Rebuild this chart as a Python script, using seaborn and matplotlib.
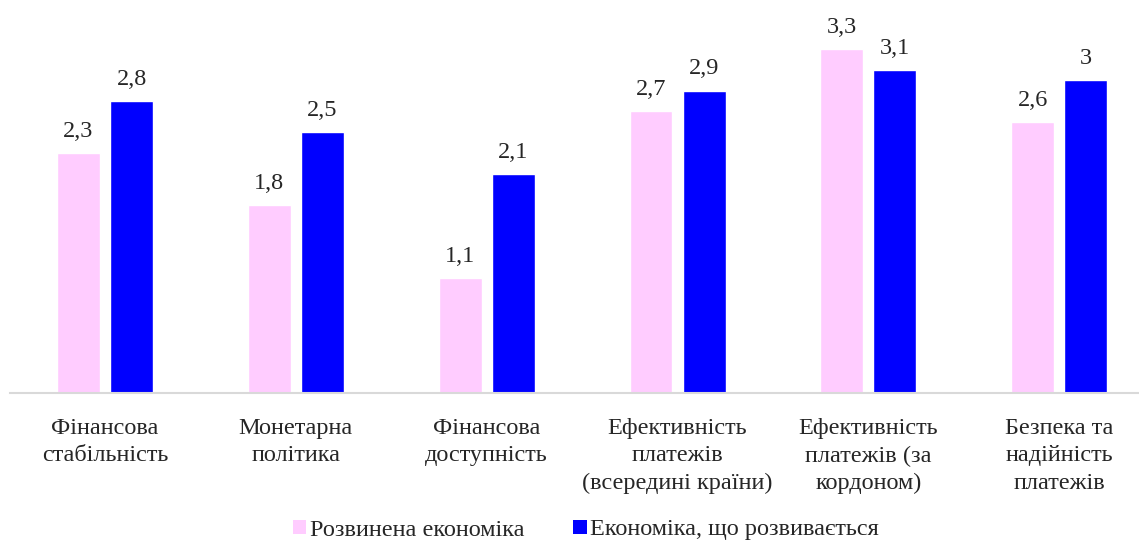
import matplotlib
matplotlib.use("Agg")
import matplotlib.pyplot as plt
import seaborn as sns
import pandas as pd
from matplotlib.patches import Patch

categories = [
    "Фінансова\nстабільність",
    "Монетарна\nполітика",
    "Фінансова\nдоступність",
    "Ефективність\nплатежів\n(всередині країни)",
    "Ефективність\nплатежів (за\nкордоном)",
    "Безпека та\nнадійність\nплатежів",
]
developed = [2.3, 1.8, 1.1, 2.7, 3.3, 2.6]
developing = [2.8, 2.5, 2.1, 2.9, 3.1, 3.0]
series_names = ["Розвинена економіка", "Економіка, що розвивається"]
colors = ["#FFCCFF", "#0000FF"]

df = pd.DataFrame({
    "category": categories * 2,
    "value": developed + developing,
    "series": [series_names[0]] * len(categories) + [series_names[1]] * len(categories),
})

sns.set_theme(style="white")
plt.rcParams["font.family"] = ["Liberation Serif", "DejaVu Serif"]

W, H = 1139, 541
FS = 17.5
fig = plt.figure(figsize=(W / 100, H / 100), dpi=100)
ax = fig.add_axes([9.6 / W, 1 - 393 / H, 1145 / W, (393 - 28) / H])

sns.barplot(data=df, x="category", y="value", hue="series", palette=colors,
            width=0.556, gap=0.19, ax=ax, legend=False, saturation=1)

ax.set_ylim(0, 3.5)
ax.set_xlim(-0.5, len(categories) - 0.5)
ax.set_xlabel("")
ax.set_ylabel("")
ax.set_yticks([])
for s in ["top", "right", "left"]:
    ax.spines[s].set_visible(False)
ax.spines["bottom"].set_color("#D9D9D9")
ax.spines["bottom"].set_linewidth(1.5)
ax.tick_params(axis="x", length=0, pad=18, labelsize=FS)
for t in ax.get_xticklabels():
    t.set_linespacing(1.4)

for container in ax.containers:
    labels = [f"{v:g}".replace(".", ",") for v in container.datavalues]
    ax.bar_label(container, labels=labels, padding=8, fontsize=FS)

handles = [Patch(facecolor=c, edgecolor="none") for c in colors]
fig.legend(handles, series_names, loc="center", bbox_to_anchor=(586 / W, 1 - 530 / H),
           ncol=2, frameon=False, fontsize=FS, handlelength=0.55, handleheight=0.55,
           handletextpad=0.15, columnspacing=2.0)

fig.savefig("out.png", dpi=100)
